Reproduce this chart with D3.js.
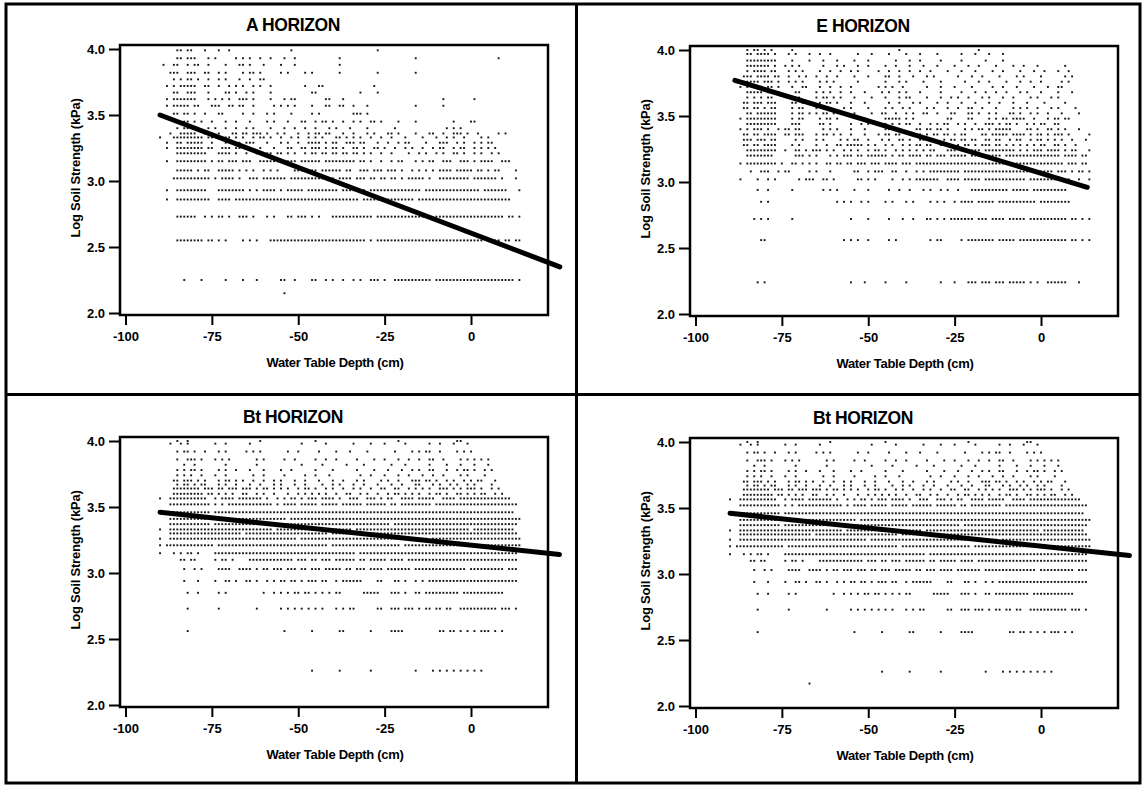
<!DOCTYPE html>
<html>
<head>
<meta charset="utf-8">
<script src="https://cdn.jsdelivr.net/npm/d3@7"></script>
<style>
  body { margin: 0; background: #fff; }
  text { font-family: "Liberation Sans", Arial, sans-serif; font-weight: bold; fill: #000; }
</style>
</head>
<body>
<div id="chart"></div>
<script>
// axis ticks shared by all four panels
const xTicks = [-100, -75, -50, -25, 0];
const yTicks = [2.0, 2.5, 3.0, 3.5, 4.0];

// each mask: groups of 10 one-cm bins, first bin at -95 cm, '#' = a reading
const maskStart = -95;

//A horizon
const aLevels = [2.15, 2.25, 2.55, 2.73, 2.86, 2.93, 3.02, 3.08, 3.15, 3.21, 3.25, 3.29, 3.33,
  3.36, 3.40, 3.45, 3.51, 3.57, 3.62, 3.67, 3.72, 3.77, 3.82, 3.88, 3.93, 3.99];
const aMasks = [
  ".......... .......... .......... .......... .#........",
  ".......... ..#....#.. ....#....# ...#...... ##..#....# #..#.#..#. .#.#..###. #..####### ####.##### ########## ########.#",
  ".......... ########.# #.#.#....# .#.#...### ########## ########## #####.#.## ########## ########## #########. ####.##.##",
  ".......... ######..#. #.##.#..## #.#...#.#. ..##.###.# .#...##### #######.## ########## ####.##### ########## #####.##.#",
  ".......#.. ########## ..####.### ########## ########## ########## ###.###### #########. ########## ########## #######...",
  ".......#.. #########. ..######## .#.#.####. #.#####.## #######.## #####.#### ########## #.######## ########.# ######...#",
  ".........# ########## .#.####.#. .###.##### ##.####### ###.##.### #.###.##.# #.##.#.### ##.#..#### #####.#### ###.#...#.",
  ".......... #####.#.## ..#####.#. #.#..#.#.# ....####.# #.######.# #..###.### .###.#..#. #.#.#.#### .#####.##. #.##....#.",
  ".......#.. #########. #.##.###.# ##..###### #####.#### ##.####### ##.##.#..# ..#.##...# .#.##..### ..###.#.## ##..###...",
  ".......... #########. ..####.#.. #..#..##.# #.#.#..#.# #.##.##.## .##.#.#..# ..#....#.. #.#..#.#.. ##.#..#.#. .#.#......",
  ".......#.. ########.# #..###.##. ....#...#. ..##..##.# ##.#.##.#. .##.#..##. #..#..#.#. .#..#.##.. #.##..#.#. #.#.......",
  ".......#.. ##.#####.. #...#.#.#. ###...#... #.#..#..## ##.#.##..# ##.##...#. .#..#.##.. ..#...###. .#.#..#.#. ##........",
  ".....#...# ########.# #.####.#.# ..#.##.#.. #..#.#..#. #.#...##.# .#.#..#..# ..#...#... .#...#..#. #..#....#. #.........",
  "........#. .#####..## ..#...##.# #.###.#..# .#...#..#. ##.##...#. .#...#.#.. .##.#....# ...##..#.. ###.#..#.. ...#.#....",
  ".......... #.##.##..# .#..#..#.. #.#....#.. .#..#..#.. #...#.#... #....#.... ...#...... ........#. #.#....... ..........",
  ".......... ..##.#.#.. #...#..#.. .#....#.#. ..#...##.. #.##.#..#. .#.#..##.# ....#....# .......... #....##... ..........",
  ".........# #.##.#..#. ..##.....# ..#...#.#. ...#.....# .#........ .###.#....",
  ".......#.# ####.##... ###..##.## ..#.....#. #.#.#....# ...##..##. .#...#.... .........# .......#..",
  ".......#.# ######...# .#.#.#..## #.#....#.. .#.##..... ...##...#. .......... .......... .......#.. ......#...",
  ".........# #..###...# ....##.#.. #.#....#.. .........# #......... ...#....#.",
  ".......#.# .#####..## ..#..#.#.# ..#.#..#.. .......#.. .##....... .......#..",
  ".........# .#.##.#..# ..#.#...#. .#..##....",
  "........## #..###..## ..#.#....# .##.#..... #.#....#.# .......#.. ........#. .........#",
  "......#..# #..#.##..# ....#...## .#...#.... #...#..... .......#..",
  ".......... ##.###...# .#.....#.# .#..#..#.. .#..#..... .......#.. .......... .........# .......... .......... ...#......",
  ".......... ##.##...#. ..#..#.... .......... ...#...... .......... ........#."
];
const aFit = [[-90, 3.50], [25.7, 2.35]];

//E horizon
const eLevels = [2.24, 2.56, 2.72, 2.85, 2.94, 3.02, 3.08, 3.14, 3.20, 3.24, 3.28, 3.32, 3.36,
  3.40, 3.44, 3.48, 3.52, 3.56, 3.60, 3.64, 3.68, 3.72, 3.76, 3.80, 3.84, 3.88, 3.92, 3.97, 4.00];
const eMasks = [
  ".......... ...#.#.... .......... .......... #...#..... #.....#... ......#... #...###.## #.###.#### #.#.#..### ###...#...",
  ".......... ....##.... .......... ........#. #.#..#.... .#.#...... ...#.##... ..#.###### ##.#####.# ########## ###.##.#.#",
  ".......... ..#.#.#... ...#...... .......... #....#.... .#...#..#. ..##.#.#.# ######.### .####.#### #.######## ###.##.#.#",
  ".......... ....#.#... .......... ......#.#. #..#.#.... #.#...#.#. ...#.#.#.. #.####.### ##.####### ####.##### ####......",
  ".......... ...#..#... ...#...... ..#.#.#... .#...#.... .#..#..#.. .#.#..#.#. .#...##### ######.### ##.####### ###.......",
  "........#. ...#..#.#. .....#.### ..##.#.... ..##.#.#.. ..#..#.#.# ######..## ##.#####.# ########## #.######## ##.#..#..#",
  ".......... .#..###..# .##.....#. #...#..... .##..#.### ..##..#..# .#.####### ##.####### ########## #########. ###.#.##.#",
  "........#. #########. #..##.#.#. #..##.##.# #.###.###. ####.###.# ########## ########## ######.### ########## ##.###.##.",
  ".......... ########.. ....###.#. #...#.#.## #.##.##### #.#.##.### #.##.###.# ####.###.# ####.##### ########## #.####.##.",
  ".......... #########. .#..##.#.# ##.#.#..#. #.#..#.##. #..#.#.#.# .#.##...## #.######.# ########.# .#.###.### #.#.##...#",
  ".........# #.##.####. ...#.#.... #..#..##.# ####.#.#.. #.#..#.#.# #.##..#.#. .#.##.#.## #.##.#.#.# .#.#.##..# #.#..#....",
  ".........# ##.###.##. ....#.#... #.#....#.# .##..#...# .#..##.#.. ##.##..#.# #.##.##..# #.##..#.## ..#.##.#.# .#..#...#.",
  ".........# #.##.####. .##.###... #.##.#.#.. #...#...#. ##.##....# #.#.##.##. #.##....## .#####.### #.#.##.#.# ##.#.....#",
  "........#. #.###.#..# .##.##.... ..#.#.#... #...#..... ##.##....# #.##.##.#. ...#.#.##. #.#####... .##.#..##. #.#...#...",
  ".......... #########. ...###.... .##.#..... #..#.#.... #.#.#.##.. #..#.#.##. .#.#..#..# ##.#.##.#. .#.#.##..# #.........",
  "........#. #########. ...#.##... .#.##.#... ....#..... #####.#.#. ........## ....##.... #.#.##.### #..#...#.# #.##......",
  ".......... ##.######. ...#.##.#. #.##.#..#. .#....#..# #..#..#.#. .##..#...# #...##.#.. #.#...##.# ..#.#..#.. .#....#...",
  ".........# #.##.#.##. ...#.##... #.#.....#. #....#.... #.#..#.#.. ..#.#...#. .#..##..#. ..#....#.# .#..#...#. #....#....",
  ".........# #.###.###. ...##.#... .#.##.#... #...#..... .#..#...#. #....#..#. ..#...#... #..#...#.. .#....#... ..#.......",
  ".......... #.#.#.##.. ....##.... #.##.#.#.. .#....#... #...#.##.. ..#...#..# .#..#...#. #...#..#.. ..#.#...#. #.........",
  ".......... #####.#... ....##.... #.#.#..#.. #...#....# .#..#.#... #.....#... ..#...#..# ..#..#...# .#...#.... #...#.....",
  "........#. #.###.##.# ...#..##.. .#..#..#.. #.......#. #.#..#.... ..#...#... #....#.... .#..#...#. ...#...#.. ##........",
  ".........# ####.###.# ..#.#.#... .#.#.#.... ..#....... #...#.#... .#....#... ...#...#.. #....#...# ..#..#.... .#.#......",
  ".........# ##.####.## ..#..#.#.. #..#..#... .#...#.... ##..#...#. ..#.#..... .#...#..#. ...#....#. #....#.... ..#.#.....",
  ".......... #.####.##. ..#.#.#... .#..#..#.. #.#.....#. .#..#..#.. #..#....#. ..#...#... .#..#....# ...#..#... #..#......",
  ".......... #######.#. .#.#.#.... ..#...#.#. ..#..#.... #..#...#.. .#...#.... #...#..#.. ..#....#.. #...#..... ..#.......",
  ".......... #########. ...#....#. ..#...#... .#...#.... ...#...#.. #.....#... ..#......# ....#.....",
  ".......... ##.####.#. ..#.#...#. .#..#..... ..#...#... .#....#... #....#.... ..#...#... #...#.....",
  ".......... #.##.#.#.. ...#...... .......... .......... ....#..... .......... .......#.."
];
const eFit = [[-88.6, 3.77], [13.4, 2.96]];

//Bt horizon (same readings shown twice in the figure)
const btLevels = [2.26, 2.56, 2.73, 2.85, 2.94, 3.03, 3.10, 3.15, 3.21, 3.26, 3.30, 3.33, 3.37,
  3.41, 3.46, 3.52, 3.565, 3.60, 3.64, 3.67, 3.70, 3.74, 3.78, 3.82, 3.86, 3.92, 3.98, 4.00];
const btMasks = [
  ".......... .......... .......... .......... .........# .......#.. ......#... .........# ....#.#.#. #.#.#.#.#.",
  ".......... ...#...... .......... .......... .#.......# .......##. ......#... ..####.... ......##.# #.#.#.#.## #.#.#.....",
  ".......... ...#...... ..#....... ...#...... #.#.#.#.#. #.#...#.#. ##......## ..###.###. #.##.##.## ..######## ###.###.#.",
  ".......... ...#..#... ..#.#..... .....#..#. #.#.##.##. #.#.#.##.. ....#####. ..###.#..# #.######## ##.####### #####.....",
  ".......... ..#...#... .#..##.#.. ##.#..#.#. ##.##.#.## #.##..#.## ####....## ...##.#..# .#.####### ########## #########.",
  ".......... ..#..#.#.. ..####..## ##.#.##.## #.###.##.# ##.#####.# #.###.#### .#######.# ########## ####.##### #####.###.",
  ".......... .##.##.... .#.##.#... .######### ####.###.# #.###.#### ##.##.#### #.####.### ########## ########## #########.",
  ".....#...# .#.##.#... .######### ########## ########## ########## ##.####### ########## ########## ########## #########.",
  ".....#.### ########## #.######## ########## ########## ####.##### ########## #####.#### ########## ########## ##########",
  ".....#..## ########## ########## ########## #####.#### ########## ########## ########## ###.###### ########## ##########",
  "........## ########## #########. ########## ########## ####.##### ########## ########## ########## ########## #########.",
  ".....#..## ########## ########## ########.# ########## ########## #.######## ########## ########## #####.#### ########..",
  "........## ########## .######### ########## ########## ########## ########## ##.####### ########## ########## #########.",
  "........## ########## ########## ########## ##.####### ########## ########## ########## ########## ########## ##########",
  ".....#..## ########## .######### ########## ########## ########## ########## ########## ########## ########## ########..",
  "........## ########## .#.#.##### ########.# .####.#### #.#####.## ####.##### #.##.##### ####.##### ########## #########.",
  ".....#..## #########. .#.####.## #####.#..# .#.##.#.## #.####.#.. ###..###.# .##..####. #####..### #.######## #######...",
  ".........# ########.# #.#.#.#..# #..#.#..#. ..#..#.#.# .#.#..#..# #..#.#..#. .#.##.#.#. #..#.##.#. .##.#.#.## ..#.#.....",
  ".........# #######.## #.##.###.# ##.#.##.#. #.#..#.##. #..#.#..#. .#.#..#..# #..##..#.# .#.#..###. #.#.###.#. .#.#......",
  ".......... #.##.#.##. ..#.#..#.. .#..#...#. #...#..#.. ..#..#.#.. .#..#...#. ..#..#...# #...#.#..# .#..#.#... .#........",
  ".........# #.###.#.#. ..#.##.#.# ..#..#..#. #...#..#.. .#...#..#. ..#.#....# .#..#...## #.##.#..#. #..#.#.##. ..#.......",
  ".......... #.#.#..#.. .#..#..... ..#..#.... .#.....#.. #...#..... ...#..#... #...#..#.. .#..#..#.. ..#.#....# ..........",
  ".......... #.#.##.#.. ..#.#..#.. .#...#.... #..#...... #....#.... ..#....#.. .#...#..#. #..##...#. .#.##.#..# .#........",
  ".......... ..#..#.... ....#..... ...#...... ......#... ..#......# ....#..... ..#...#... ...#....#. ..#...#... #.........",
  ".......... #..###.#.. .#.#.#.... ...#.#.... .#..#..... #..#..#... ..#....#.. #...#..#.. #..##..#.. ..#.#.#.#. #.........",
  ".......... #.##.#..#. ..#.#..... #.#.#..... ..#..#.... .#....#... #....#.... ...#....#. #.##..#... .#.#.#.... ..........",
  "........#. .#.#...... .#..#..... .#........ ......#... ...#...... .#....#... #.....#... ...#..#... #...#..... ..........",
  ".......... #..#...... .......... ....#..... .......... #......... .......... ....#..... .......... .##....... .........."
];
const btFit = [[-90, 3.46], [25.6, 3.14]];
// one stray reading only on the right-hand copy
const btRightExtra = [[-67, 2.17]];

const titles = ["A HORIZON", "E HORIZON", "Bt HORIZON", "Bt HORIZON"];

function maskPoints(levels, masks) {
  var pts = [];
  masks.forEach(function (m, i) {
    m.split(" ").forEach(function (grp, g) {
      for (var k = 0; k < grp.length; k++) {
        if (grp[k] === "#") pts.push([maskStart + g * 10 + k, levels[i]]);
      }
    });
  });
  return pts;
}

var panels = [
  { title: titles[0], pts: maskPoints(aLevels, aMasks), fit: aFit, ox: 0, oy: 0 },
  { title: titles[1], pts: maskPoints(eLevels, eMasks), fit: eFit, ox: 570, oy: 1 },
  { title: titles[2], pts: maskPoints(btLevels, btMasks), fit: btFit, ox: 0, oy: 392 },
  { title: titles[3], pts: maskPoints(btLevels, btMasks).concat(btRightExtra), fit: btFit, ox: 570, oy: 393 }
];

var svg = d3.select("#chart").append("svg")
  .attr("width", 1144)
  .attr("height", 787);

svg.append("rect").attr("width", 1144).attr("height", 787).attr("fill", "#fff");

//outer frame and the cross that splits it
svg.append("rect")
  .attr("x", 6).attr("y", 4).attr("width", 1134).attr("height", 779)
  .attr("fill", "none").attr("stroke", "#000").attr("stroke-width", 3);
svg.append("line").attr("x1", 576.5).attr("x2", 576.5).attr("y1", 4).attr("y2", 783)
  .attr("stroke", "#000").attr("stroke-width", 3);
svg.append("line").attr("x1", 6).attr("x2", 1140).attr("y1", 394.5).attr("y2", 394.5)
  .attr("stroke", "#000").attr("stroke-width", 3);

panels.forEach(function (p) {
  var g = svg.append("g").attr("transform", "translate(" + p.ox + "," + p.oy + ")");

  var x = d3.scaleLinear().domain([-100, 0]).range([125.5, 471]);
  var y = d3.scaleLinear().domain([2, 4]).range([313, 49]);

  g.append("text")
    .attr("x", 293).attr("y", 31)
    .attr("text-anchor", "middle")
    .style("font-size", "17.5px")
    .style("letter-spacing", "-0.4px")
    .text(p.title);

  //points
  g.append("g").selectAll("rect")
    .data(p.pts)
    .enter()
    .append("rect")
    .attr("x", function (d) { return x(d[0]) - 0.95; })
    .attr("y", function (d) { return y(d[1]) - 0.95; })
    .attr("width", 1.9)
    .attr("height", 1.9)
    .attr("fill", "#161616");

  //fitted line, runs past the frame like the original
  g.append("path")
    .datum(p.fit)
    .attr("d", d3.line().x(function (d) { return x(d[0]); }).y(function (d) { return y(d[1]); }))
    .attr("fill", "none")
    .attr("stroke", "#000")
    .attr("stroke-width", 5)
    .attr("stroke-linecap", "round");

  //frame of the plot
  g.append("rect")
    .attr("x", 120).attr("y", 45).attr("width", 428).attr("height", 270)
    .attr("fill", "none").attr("stroke", "#000").attr("stroke-width", 2.5);

  var yAxis = g.append("g")
    .attr("transform", "translate(120,0)")
    .call(d3.axisLeft(y).tickValues(yTicks).tickFormat(d3.format(".1f")).tickSize(11).tickPadding(4));
  var xAxis = g.append("g")
    .attr("transform", "translate(0,315)")
    .call(d3.axisBottom(x).tickValues(xTicks).tickFormat(function (d) { return String(d); })
      .tickSize(10).tickPadding(7));

  [yAxis, xAxis].forEach(function (a) {
    a.select(".domain").remove();
    a.selectAll(".tick line").attr("stroke", "#000").attr("stroke-width", 2);
    a.selectAll(".tick text")
      .style("font-family", "'Liberation Sans', Arial, sans-serif")
      .style("font-weight", "bold")
      .style("font-size", "13px")
      .attr("fill", "#000");
  });

  g.append("text")
    .attr("transform", "translate(80,168) rotate(-90)")
    .attr("text-anchor", "middle")
    .style("font-size", "13px")
    .style("letter-spacing", "-0.2px")
    .text("Log Soil Strength (kPa)");

  g.append("text")
    .attr("x", 335).attr("y", 367)
    .attr("text-anchor", "middle")
    .style("font-size", "13px")
    .style("letter-spacing", "-0.3px")
    .text("Water Table Depth (cm)");
});
</script>
</body>
</html>
